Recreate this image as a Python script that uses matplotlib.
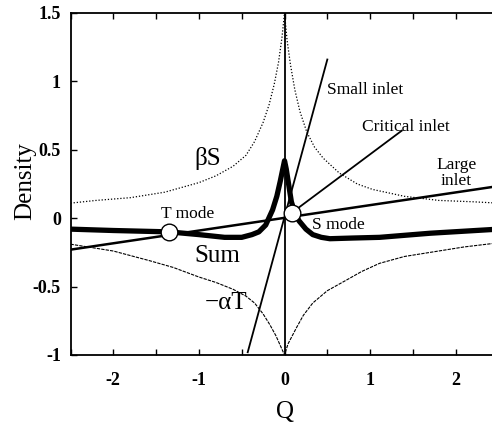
import numpy as np
import matplotlib
matplotlib.use('Agg')
import matplotlib.pyplot as plt

plt.rcParams['font.family'] = ['Liberation Serif', 'DejaVu Serif']

# beta*S curve (dotted)
q_s = [-2.5, -2.2, -1.8, -1.4, -1.0, -0.8, -0.6, -0.45, -0.35, -0.25, -0.18,
       -0.12, -0.07, -0.03, 0.0, 0.03, 0.07, 0.12, 0.18, 0.26, 0.35, 0.45,
       0.64, 0.85, 1.03, 1.4, 1.8, 2.2, 2.5]
beta_s = [0.11, 0.13, 0.15, 0.19, 0.26, 0.31, 0.38, 0.46, 0.56, 0.7, 0.83,
          0.98, 1.14, 1.32, 1.5, 1.3, 1.12, 0.94, 0.78, 0.63, 0.52, 0.44,
          0.33, 0.25, 0.21, 0.16, 0.13, 0.12, 0.11]

# -alpha*T curve
q_t = [-2.5, -2.0, -1.58, -1.3, -1.0, -0.8, -0.6, -0.45, -0.35, -0.25, -0.17,
       -0.1, -0.05, 0.0, 0.04, 0.09, 0.14, 0.22, 0.33, 0.5, 0.73, 0.9, 1.11,
       1.4, 1.7, 2.1, 2.5]
alpha_t = [-0.19, -0.24, -0.31, -0.36, -0.43, -0.47, -0.52, -0.57, -0.62,
           -0.7, -0.78, -0.86, -0.93, -1.0, -0.92, -0.86, -0.8, -0.71, -0.62,
           -0.53, -0.45, -0.39, -0.33, -0.28, -0.25, -0.21, -0.18]

# Sum curve (thick)
q_sum = [-2.5, -2.0, -1.35, -1.0, -0.7, -0.5, -0.38, -0.3, -0.22, -0.14,
         -0.09, -0.05, -0.02, 0.0, 0.02, 0.05, 0.08, 0.12, 0.17, 0.25, 0.33,
         0.43, 0.53, 0.8, 1.11, 1.7, 2.5]
dens_sum = [-0.08, -0.09, -0.10, -0.12, -0.14, -0.14, -0.12, -0.1, -0.05, 0.06,
            0.16, 0.27, 0.36, 0.42, 0.36, 0.24, 0.12, 0.04, -0.02, -0.08, -0.12,
            -0.14, -0.15, -0.145, -0.14, -0.11, -0.08]

# inlet lines (end points)
small_q, small_d = [-0.43, 0.5], [-0.98, 1.16]
crit_q, crit_d = [0.0, 1.37], [0.0, 0.64]
large_q, large_d = [-2.5, 2.5], [-0.23, 0.235]

# equilibrium points
mode_q = [-1.35, 0.09]
mode_d = [-0.10, 0.04]

fig = plt.figure(figsize=(4.92, 4.22), dpi=100)
ax = fig.add_axes([0.1433, 0.1588, 0.870, 0.8104])

ax.plot(q_s, beta_s, color='black', lw=0.9, linestyle=(0, (1, 1.5)))
ax.plot(q_t, alpha_t, color='black', lw=0.8, linestyle=(0, (3, 1)))
ax.axvline(0, color='black', lw=1.3)
ax.plot(small_q, small_d, color='black', lw=1.3)
ax.plot(crit_q, crit_d, color='black', lw=1.3)
ax.plot(large_q, large_d, color='black', lw=1.8)
ax.plot(q_sum, dens_sum, color='black', lw=3.8, solid_capstyle='round',
        solid_joinstyle='round')
ax.plot(mode_q, mode_d, 'o', ms=12, mfc='white', mec='black', mew=1.0, zorder=5)

ax.text(-0.9, 0.44, 'βS', fontsize=18, ha='center', va='center')
ax.text(-1.13, 0.03, 'T mode', fontsize=12.5, ha='center', va='center')
ax.text(-0.78, -0.28, 'Sum', fontsize=18, ha='center', va='center')
ax.text(-0.68, -0.62, '−αT', fontsize=18, ha='center', va='center')
ax.text(0.32, -0.05, 'S mode', fontsize=12.5, ha='left', va='center')
ax.text(0.5, 0.94, 'Small inlet', fontsize=12.5, ha='left', va='center')
ax.text(0.91, 0.67, 'Critical inlet', fontsize=12.5, ha='left', va='center')
ax.text(2.01, 0.33, 'Large\ninlet', fontsize=12.5, ha='center', va='center',
        linespacing=1.0)

ax.set_xlim(-2.5, 2.5)
ax.set_ylim(-1, 1.5)
xt = np.arange(-2.5, 2.51, 0.5)
ax.set_xticks(xt)
ax.set_xticklabels(['', '-2', '', '-1', '', '0', '', '1', '', '2', ''])
yt = np.arange(-1, 1.51, 0.5)
ax.set_yticks(yt)
ax.set_yticklabels(['-1', '-0.5', '0', '0.5', '1', '1.5'])
ax.tick_params(direction='in', length=4, width=1, top=True, labelsize=13,
               pad=7)
for lab in ax.get_xticklabels() + ax.get_yticklabels():
    lab.set_fontweight('bold')
ax.tick_params(axis='x', pad=12)
ax.spines['right'].set_visible(False)
for s in ['left', 'bottom', 'top']:
    ax.spines[s].set_linewidth(1.3)

ax.set_xlabel('Q', fontsize=18)
ax.set_ylabel('Density', fontsize=18)
ax.xaxis.set_label_coords(0.5, -0.167)
ax.yaxis.set_label_coords(-0.106, 0.51)
ax.xaxis.label.set_va('center')
ax.yaxis.label.set_va('center')

fig.savefig('out.png', dpi=100)
